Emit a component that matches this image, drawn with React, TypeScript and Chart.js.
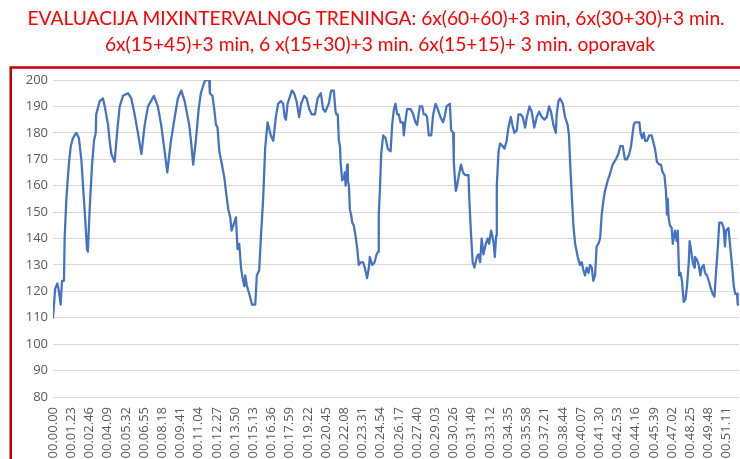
import React, { useEffect, useRef } from "react";
import { Chart, registerables } from "chart.js";

Chart.register(...registerables);

const titleLines = [
  "EVALUACIJA MIXINTERVALNOG TRENINGA: 6x(60+60)+3 min, 6x(30+30)+3 min.",
  "6x(15+45)+3 min, 6 x(15+30)+3 min. 6x(15+15)+ 3 min. oporavak",
];

const tickLabels = [
  "00.00.00", "00.01.23", "00.02.46", "00.04.09", "00.05.32", "00.06.55", "00.08.18",
  "00.09.41", "00.11.04", "00.12.27", "00.13.50", "00.15.13", "00.16.36", "00.17.59",
  "00.19.22", "00.20.45", "00.22.08", "00.23.31", "00.24.54", "00.26.17", "00.27.40",
  "00.29.03", "00.30.26", "00.31.49", "00.33.12", "00.34.35", "00.35.58", "00.37.21",
  "00.38.44", "00.40.07", "00.41.30", "00.42.53", "00.44.16", "00.45.39", "00.47.02",
  "00.48.25", "00.49.48", "00.51.11",
];

// elapsed time in seconds
const seconds = [
  0, 10, 20, 27, 35, 41, 50, 53, 61, 72, 81, 91, 106, 118, 129, 144, 155, 159, 167, 178,
  187, 195, 197, 213, 228, 238, 251, 258, 266, 281, 292, 304, 319, 342, 357, 372, 387, 403,
  418, 433, 460, 478, 493, 509, 521, 536, 551, 569, 585, 600,
  621, 629, 639, 651, 664, 674, 685, 694, 712, 715, 727, 735, 743, 750, 758, 770, 781, 788,
  799, 808, 814, 826, 834, 841, 849, 857, 864, 872, 876, 884, 895, 907, 922, 929, 940, 948,
  958, 967, 978, 993, 1004, 1016, 1026, 1039, 1049, 1056, 1062, 1069, 1089, 1099, 1110,
  1122, 1131, 1145, 1156, 1168, 1179, 1194, 1206, 1221, 1231, 1241,
  1257, 1268, 1280, 1288, 1292, 1298, 1303, 1308, 1311, 1318, 1326, 1330, 1334, 1341, 1344,
  1349, 1353, 1359, 1364, 1371, 1379, 1387, 1394, 1402, 1414, 1421, 1432, 1440, 1444, 1455,
  1466, 1475, 1482, 1485, 1490, 1496, 1505, 1516, 1526, 1539, 1546, 1554, 1561, 1569, 1576,
  1584, 1595, 1599, 1604, 1614, 1630, 1642, 1652, 1660, 1672, 1683, 1690, 1698, 1705, 1713,
  1724, 1733, 1744, 1754, 1766, 1778, 1785, 1794, 1809, 1815, 1824, 1827, 1831, 1836, 1842,
  1850, 1860, 1869,
  1879, 1894, 1898, 1906, 1913, 1921, 1932, 1939, 1947, 1954, 1962, 1973, 1982, 1988, 1997,
  2005, 2009, 2014, 2020, 2023, 2031, 2038, 2049, 2058, 2068, 2076, 2087, 2094, 2103, 2114,
  2122, 2132, 2141, 2152, 2160, 2172, 2182, 2194, 2205, 2216, 2228, 2240, 2251, 2261, 2270,
  2281, 2292, 2296, 2304, 2311, 2324, 2334, 2346, 2352, 2357, 2365, 2372, 2380, 2392, 2402,
  2410, 2418, 2425, 2433, 2441, 2448, 2456, 2463, 2471, 2478, 2486, 2494, 2501, 2510,
  2516, 2529, 2541, 2551, 2566, 2577, 2586, 2597, 2607, 2616, 2627, 2635, 2647, 2653, 2673,
  2678, 2685, 2693, 2699, 2708, 2718, 2729, 2735, 2744, 2753, 2764, 2771, 2779, 2787, 2794,
  2799, 2802, 2806, 2812, 2820, 2825, 2829, 2835, 2843, 2848, 2851, 2854, 2860, 2867, 2875,
  2883, 2890, 2898, 2902, 2908, 2916, 2924, 2926, 2935, 2943, 2951, 2957, 2966, 2972, 2981,
  2989, 2999, 3007, 3015, 3022, 3030, 3037, 3048, 3057, 3063, 3068, 3079, 3088, 3094, 3103,
  3110, 3118, 3121, 3127,
];

// heart rate (bpm)
const heartRate = [
  110, 121, 123, 120, 115, 124, 124, 140, 155, 168, 175, 178, 180, 178, 170, 151, 136, 135, 151, 168,
  177, 180, 187, 192, 193, 189, 183, 177, 172, 169, 180, 190, 194, 195, 193, 187, 180, 172,
  183, 190, 194, 190, 183, 173, 165, 176, 184, 193, 196, 192,
  183, 177, 168, 177, 189, 195, 198, 200, 200, 195, 194, 189, 183, 182, 173, 168, 163, 158,
  151, 148, 143, 146, 148, 136, 138, 129, 125, 122, 126, 122, 119, 115, 115, 126, 128, 141,
  155, 174, 184, 179, 177, 186, 191, 192, 191, 186, 185, 191, 196, 195, 192,
  186, 191, 194, 193, 189, 187, 187, 193, 195, 189, 188,
  191, 196, 196, 188, 187, 187, 177, 175, 169, 162, 163, 165, 160, 168, 162,
  160, 151, 149, 146, 145, 141, 136, 130, 131, 131, 129, 125, 129, 133, 130,
  131, 134, 135, 149, 158, 172, 179, 178, 174, 173, 183, 189, 191, 187, 187,
  184, 184, 179, 183, 189, 189, 187, 184, 183, 190, 190, 187, 187, 186, 179,
  179, 187, 191, 189, 186, 184, 186, 190, 191, 181, 180, 169, 164, 158, 160,
  164, 168, 165,
  164, 164, 154, 141, 131, 129, 133, 134, 131, 140, 134, 138, 140, 138, 143,
  140, 138, 133, 141, 160, 173, 176, 175, 174, 177, 182, 186, 183, 180, 181,
  187, 187, 186, 182, 186, 190, 188, 182, 186, 188, 186, 185, 186, 190, 188,
  183, 180, 187, 192, 193, 191, 186, 183, 179, 169, 156, 145, 138, 133, 130,
  131, 128, 126, 129, 127, 130, 129, 124, 126, 137, 138, 140, 149, 155,
  158, 162, 165, 168, 170, 172, 175, 175, 170, 170, 172, 175, 183, 184, 184,
  180, 178, 180, 177, 177, 179, 179, 177, 174, 169, 168, 168, 165, 164, 158,
  149, 155, 148, 145, 144, 138, 140, 143, 139, 143, 134, 126, 127, 124, 116,
  117, 122, 131, 139, 136, 131, 129, 133, 132, 130, 126, 129, 130, 127, 126,
  124, 121, 119, 118, 127, 136, 146, 146, 144, 137, 143, 144, 136, 131, 122,
  119, 119, 115, 115,
];

const toSeconds = (label: string) => {
  const [h, m, s] = label.split(".").map(Number);
  return h * 3600 + m * 60 + s;
};

const CANVAS_W = 740;
const CANVAS_H = 476;
const PLOT_TOP = 80;
const PLOT_BOTTOM = 397;
const PLOT_LEFT = 53;

const frame = {
  id: "frame",
  beforeDraw(chart: any) {
    const ctx = chart.ctx;
    ctx.save();
    ctx.fillStyle = "#ffffff";
    ctx.fillRect(0, 0, chart.width, chart.height);
    ctx.strokeStyle = "#C00000";
    ctx.lineWidth = 2.5;
    ctx.strokeRect(10.75, 67.5, 1200, 1200);
    ctx.restore();
  },
};

const titleStyle: React.CSSProperties = {
  position: "absolute",
  top: 0,
  width: 740,
  textAlign: "center",
  color: "#FF0000",
  fontFamily: "Lato",
  fontSize: 19.2,
  lineHeight: "26px",
  whiteSpace: "nowrap",
};

export default function App() {
  const ref = useRef<HTMLCanvasElement>(null);

  useEffect(() => {
    if (!ref.current) return;
    const data = seconds.map((t, i) => ({ x: t, y: heartRate[i] }));
    const chart = new Chart(ref.current, {
      type: "line",
      data: {
        datasets: [
          {
            data,
            borderColor: "#4472C4",
            borderWidth: 2.25,
            pointRadius: 0,
            tension: 0,
            borderJoinStyle: "round",
            borderCapStyle: "round",
            fill: false,
          },
        ],
      },
      plugins: [frame],
      options: {
        animation: false,
        responsive: false,
        devicePixelRatio: 1,
        layout: { padding: { left: 0, right: 1, top: PLOT_TOP, bottom: 0 } },
        plugins: {
          legend: { display: false },
          tooltip: { enabled: false },
          title: { display: false },
        },
        scales: {
          x: {
            type: "linear",
            min: 0,
            max: seconds[seconds.length - 1],
            afterBuildTicks: (scale: any) => {
              scale.ticks = tickLabels.map((l) => ({ value: toSeconds(l) }));
            },
            afterFit: (scale: any) => {
              scale.height = CANVAS_H - PLOT_BOTTOM;
              scale.paddingLeft = 0;
              scale.paddingRight = 0;
            },
            grid: { display: false, drawTicks: false },
            border: { display: false },
            ticks: {
              autoSkip: false,
              minRotation: 90,
              maxRotation: 90,
              padding: 10,
              labelOffset: 0,
              color: "#595959",
              font: { family: "Open Sans", size: 13 },
              callback: (_v: any, i: number) => tickLabels[i],
            },
          },
          y: {
            min: 80,
            max: 200,
            afterFit: (scale: any) => {
              scale.width = PLOT_LEFT;
            },
            grid: { color: "#D9D9D9", lineWidth: 1, drawTicks: false },
            border: { display: false },
            ticks: {
              stepSize: 10,
              padding: 5,
              color: "#595959",
              font: { family: "Open Sans", size: 13 },
            },
          },
        },
      },
    } as any);
    return () => chart.destroy();
  }, []);

  return (
    <div
      style={{
        position: "fixed",
        left: 0,
        top: 0,
        width: 740,
        height: 459,
        overflow: "hidden",
        background: "#ffffff",
      }}
    >
      <canvas
        ref={ref}
        width={CANVAS_W}
        height={CANVAS_H}
        style={{ position: "absolute", left: 0, top: 0, display: "block", width: CANVAS_W, height: CANVAS_H }}
      />
      <div style={{ ...titleStyle, top: 5, left: 6 }}>{titleLines[0]}</div>
      <div style={{ ...titleStyle, top: 31, left: 10 }}>{titleLines[1]}</div>
    </div>
  );
}
